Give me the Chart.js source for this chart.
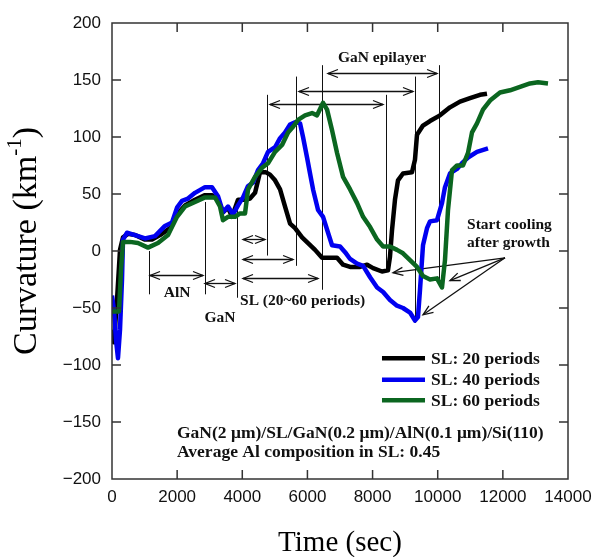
<!DOCTYPE html>
<html>
<head>
<meta charset="utf-8">
<script src="https://cdn.jsdelivr.net/npm/chart.js@4.4.1/dist/chart.umd.min.js"></script>
<style>
  html, body { margin: 0; padding: 0; background: #fff; }
</style>
</head>
<body>
<canvas id="curvChart" width="592" height="557"></canvas>
<script>
// axis ticks
const xTickValues = [2000, 4000, 6000, 8000, 10000, 12000];
const yTickValues = [-150, -100, -50, 0, 50, 100, 150];

// SL: 20 periods
const sl20Time = [0, 61, 154, 246, 338, 491, 706, 1013, 1228, 1474, 1781, 1996, 2241, 2548, 2855, 3070, 3254, 3408, 3562, 3685, 3869, 4084, 4237, 4391, 4544, 4728, 4852, 5006, 5160, 5313, 5467, 5620, 5835, 6019, 6234, 6449, 6695, 6910, 7094, 7310, 7617, 7832, 8016, 8289, 8473, 8535, 8596, 8688, 8780, 8934, 9210, 9302, 9364, 9548, 9763, 10070, 10377, 10684, 10991, 11298, 11513];
const sl20Curv = [-69, -80, -43, 1, 12, 15, 14, 10, 10, 14, 20, 32, 40, 45, 49, 49, 45, 34, 38, 30, 45, 45, 46, 51, 69, 69, 67, 62, 54, 39, 24, 20, 12, 7, 1, -6, -6, -6, -12, -14, -14, -12, -15, -18, -17, -5, 18, 45, 62, 68, 69, 80, 102, 110, 114, 119, 126, 131, 134, 137, 138];

// SL: 40 periods
const sl40Time = [0, 61, 123, 184, 246, 307, 338, 461, 706, 1013, 1320, 1627, 1842, 1996, 2149, 2333, 2548, 2855, 3070, 3254, 3408, 3562, 3716, 3869, 4023, 4177, 4330, 4483, 4637, 4790, 5006, 5160, 5313, 5467, 5620, 5773, 5865, 5988, 6080, 6173, 6326, 6480, 6633, 6756, 7002, 7156, 7310, 7525, 7709, 7924, 8139, 8324, 8535, 8750, 8934, 9149, 9302, 9394, 9456, 9548, 9671, 9763, 9978, 10131, 10223, 10377, 10592, 10745, 10930, 11206, 11544];
const sl40Curv = [-39, -52, -78, -94, -69, -25, 10, 16, 14, 11, 13, 22, 25, 38, 44, 46, 51, 56, 56, 48, 34, 39, 32, 40, 47, 57, 60, 71, 77, 87, 91, 99, 104, 111, 113, 112, 100, 82, 68, 54, 36, 30, 16, 5, 4, -1, -7, -11, -13, -23, -32, -36, -43, -48, -50, -54, -61, -58, -34, 5, 20, 26, 27, 42, 56, 68, 72, 77, 82, 87, 90];

// SL: 60 periods
const sl60Time = [0, 123, 215, 276, 338, 553, 798, 1105, 1412, 1720, 1996, 2241, 2548, 2855, 3162, 3316, 3408, 3562, 3777, 3931, 4084, 4177, 4391, 4606, 4790, 5006, 5221, 5405, 5559, 5712, 5927, 6142, 6295, 6480, 6603, 6756, 6910, 7094, 7310, 7525, 7709, 7924, 8139, 8324, 8535, 8750, 8934, 9149, 9364, 9548, 9763, 9978, 10131, 10223, 10316, 10439, 10592, 10776, 10930, 11053, 11206, 11390, 11606, 11913, 12220, 12527, 12834, 13080, 13386];
const sl60Curv = [-53, -53, -53, -17, 8, 8, 7, 3, 7, 14, 30, 39, 43, 47, 47, 39, 27, 30, 30, 33, 33, 54, 65, 73, 77, 87, 93, 104, 109, 115, 119, 121, 119, 130, 124, 106, 86, 65, 54, 42, 30, 21, 10, 4, 4, 1, -2, -8, -14, -22, -25, -24, -32, -8, 36, 71, 75, 75, 86, 104, 112, 124, 132, 139, 141, 144, 147, 148, 147];

// growth stage boundaries (time, top, bottom in km^-1)
const markTime = [1150, 2850, 3850, 4750, 5650, 6450, 8400, 9300, 10050];
const markTop = [0, 43, 39, 137, 153, 163, 137, 153, 163];
const markBottom = [-38, -38, -41, -4, -13, -34, -18, -63, -27];

// double arrows (from, to, level)
const spanFrom = [1167, 2855, 4022, 4022, 4022, 4851, 5741, 6630];
const spanTo = [2794, 3777, 4698, 5559, 6326, 8320, 9241, 9980];
const spanLevel = [-21, -28, 10.5, -7, -24, 129, 140, 156];

// "start cooling" pointer arrows
const coolFrom = [12066, -6];
const coolTime = [8627, 10377, 9548];
const coolCurv = [-19, -26, -56];

const seriesNames = ["SL: 20 periods", "SL: 40 periods", "SL: 60 periods"];
const seriesColors = ["#000000", "#0000f0", "#0b6620"];

const toPoints = (ts, vs) => ts.map((t, i) => ({ x: t, y: vs[i] }));

const serif = "'Liberation Serif', 'Times New Roman', serif";

function arrowHead(ctx, x, y, dx, dy) {
    const L = 10, W = 4;
    const nx = -dy, ny = dx;
    ctx.beginPath();
    ctx.moveTo(x - dx * L + nx * W, y - dy * L + ny * W);
    ctx.lineTo(x, y);
    ctx.lineTo(x - dx * L - nx * W, y - dy * L - ny * W);
    ctx.stroke();
}

const annotations = {
    id: "annotations",
    beforeDatasetsDraw(chart) {
        const ctx = chart.ctx;
        const xs = chart.scales.x, ys = chart.scales.y;
        ctx.save();
        ctx.strokeStyle = "#111";
        ctx.lineWidth = 1;
        markTime.forEach((t, i) => {
            const x = Math.round(xs.getPixelForValue(t)) + 0.5;
            ctx.beginPath();
            ctx.moveTo(x, ys.getPixelForValue(markTop[i]));
            ctx.lineTo(x, ys.getPixelForValue(markBottom[i]));
            ctx.stroke();
        });
        ctx.lineWidth = 1.3;
        spanFrom.forEach((t, i) => {
            const x1 = xs.getPixelForValue(t), x2 = xs.getPixelForValue(spanTo[i]);
            const y = Math.round(ys.getPixelForValue(spanLevel[i])) + 0.5;
            ctx.beginPath();
            ctx.moveTo(x1, y);
            ctx.lineTo(x2, y);
            ctx.stroke();
            arrowHead(ctx, x1, y, -1, 0);
            arrowHead(ctx, x2, y, 1, 0);
        });
        const cx = xs.getPixelForValue(coolFrom[0]), cy = ys.getPixelForValue(coolFrom[1]);
        coolTime.forEach((t, i) => {
            const tx = xs.getPixelForValue(t), ty = ys.getPixelForValue(coolCurv[i]);
            ctx.beginPath();
            ctx.moveTo(cx, cy);
            ctx.lineTo(tx, ty);
            ctx.stroke();
            const len = Math.hypot(tx - cx, ty - cy);
            arrowHead(ctx, tx, ty, (tx - cx) / len, (ty - cy) / len);
        });
        ctx.restore();
    },
    afterDatasetsDraw(chart) {
        const ctx = chart.ctx;
        const xs = chart.scales.x, ys = chart.scales.y;
        const area = chart.chartArea;
        const X = v => xs.getPixelForValue(v), Y = v => ys.getPixelForValue(v);
        ctx.save();

        // frame and inward ticks
        ctx.strokeStyle = "#333";
        ctx.lineWidth = 1.5;
        ctx.strokeRect(area.left, area.top, area.right - area.left, area.bottom - area.top);
        ctx.beginPath();
        xTickValues.forEach(v => {
            const x = X(v);
            ctx.moveTo(x, area.bottom); ctx.lineTo(x, area.bottom - 9);
            ctx.moveTo(x, area.top); ctx.lineTo(x, area.top + 9);
        });
        yTickValues.forEach(v => {
            const y = Y(v);
            ctx.moveTo(area.left, y); ctx.lineTo(area.left + 9, y);
            ctx.moveTo(area.right, y); ctx.lineTo(area.right - 9, y);
        });
        ctx.stroke();

        // annotation text
        ctx.fillStyle = "#111";
        ctx.textBaseline = "middle";
        ctx.font = "bold 15.5px " + serif;
        ctx.textAlign = "center";
        ctx.fillText("GaN epilayer", X(8290), Y(169));
        ctx.fillText("AlN", X(2000), Y(-37));
        ctx.fillText("GaN", X(3316), Y(-59));
        ctx.textAlign = "left";
        ctx.fillText("SL (20~60 periods)", X(3930), Y(-44));
        ctx.fillText("Start cooling", X(10900), Y(23));
        ctx.fillText("after growth", X(10900), Y(7));

        // legend
        const legendRows = [-94, -113, -131];
        ctx.font = "bold 17.5px " + serif;
        seriesNames.forEach((name, i) => {
            const y = Y(legendRows[i]);
            ctx.strokeStyle = seriesColors[i];
            ctx.lineWidth = 4.5;
            ctx.beginPath();
            ctx.moveTo(X(8289), y);
            ctx.lineTo(X(9610), y);
            ctx.stroke();
            ctx.fillText(name, X(9794), y + 1);
        });

        ctx.font = "bold 17.5px " + serif;
        ctx.fillText("GaN(2 \u03bcm)/SL/GaN(0.2 \u03bcm)/AlN(0.1 \u03bcm)/Si(110)", X(1996), Y(-160));
        ctx.fillText("Average Al composition in SL: 0.45", X(1996), Y(-177));

        // axis titles
        ctx.fillStyle = "#000";
        ctx.textAlign = "center";
        ctx.font = "29px " + serif;
        ctx.fillText("Time (sec)", (area.left + area.right) / 2, 543);

        ctx.translate(27, (area.top + area.bottom) / 2 - 10);
        ctx.rotate(-Math.PI / 2);
        ctx.textAlign = "left";
        const big = "34px " + serif, small = "21px " + serif;
        ctx.font = big;
        const w1 = ctx.measureText("Curvature (km").width;
        const w3 = ctx.measureText(")").width;
        ctx.font = small;
        const w2 = ctx.measureText("-1").width;
        let x0 = -(w1 + w2 + w3) / 2;
        ctx.font = big;
        ctx.fillText("Curvature (km", x0, 0);
        ctx.font = small;
        ctx.fillText("-1", x0 + w1, -12);
        ctx.font = big;
        ctx.fillText(")", x0 + w1 + w2, 0);
        ctx.restore();
    }
};

const tickFont = { family: "'Liberation Sans', Arial, sans-serif", size: 17 };

new Chart(document.getElementById("curvChart"), {
    type: "line",
    data: {
        datasets: [
            { label: seriesNames[2], data: toPoints(sl60Time, sl60Curv), borderColor: seriesColors[2], order: 0 },
            { label: seriesNames[1], data: toPoints(sl40Time, sl40Curv), borderColor: seriesColors[1], order: 1 },
            { label: seriesNames[0], data: toPoints(sl20Time, sl20Curv), borderColor: seriesColors[0], order: 2 }
        ]
    },
    options: {
        responsive: false,
        animation: false,
        elements: {
            line: { borderWidth: 4.5, tension: 0, borderJoinStyle: "round", borderCapStyle: "butt", fill: false },
            point: { radius: 0, hoverRadius: 0 }
        },
        layout: { padding: { left: 0, right: 24, top: 23, bottom: 0 } },
        scales: {
            x: {
                type: "linear",
                min: 0,
                max: 14000,
                grid: { display: false, drawTicks: false },
                border: { display: false },
                ticks: {
                    stepSize: 2000,
                    font: tickFont,
                    color: "#111",
                    padding: 8,
                    maxRotation: 0,
                    callback: v => String(v)
                },
                afterFit: s => { s.height = 78; s.paddingLeft = 0; s.paddingRight = 0; }
            },
            y: {
                min: -200,
                max: 200,
                grid: { display: false, drawTicks: false },
                border: { display: false },
                ticks: {
                    stepSize: 50,
                    font: tickFont,
                    color: "#111",
                    padding: 11,
                    callback: v => String(v).replace("-", "\u2212")
                },
                afterFit: s => { s.width = 112; s.paddingTop = 0; s.paddingBottom = 0; }
            }
        },
        plugins: {
            legend: { display: false },
            tooltip: { enabled: false }
        }
    },
    plugins: [annotations]
});
</script>
</body>
</html>
